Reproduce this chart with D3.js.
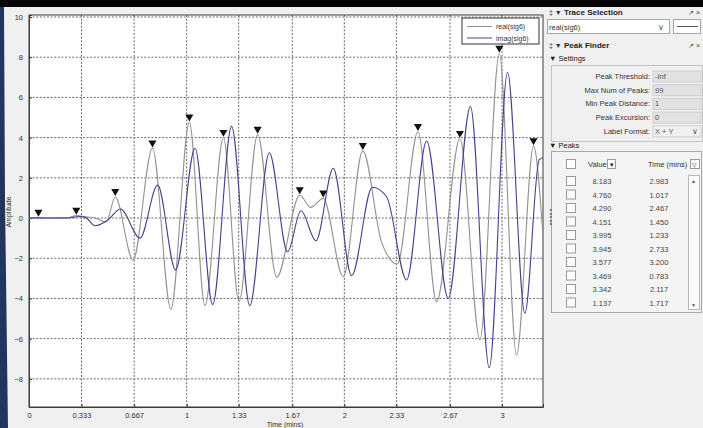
<!DOCTYPE html>
<html>
<head>
<meta charset="utf-8">
<script src="https://cdnjs.cloudflare.com/ajax/libs/d3/7.8.5/d3.min.js"></script>
<style>
body { margin: 0; background: #f0f0f0; overflow: hidden; }
text { font-family: "Liberation Sans", Arial, sans-serif; }
</style>
</head>
<body>
<svg id="chart" width="703" height="428"></svg>
<script>
// real(sig6) - key points (time in mins, amplitude)
var realT = [0, 0.06, 0.12, 0.25, 0.30, 0.37, 0.42, 0.49, 0.547, 0.66, 0.783, 0.90, 1.017, 1.116, 1.233, 1.332, 1.45, 1.571, 1.717, 1.786, 1.866, 1.993, 2.117, 2.236, 2.336, 2.467, 2.585, 2.733, 2.86, 2.983, 3.092, 3.2, 3.26];
var realV = [0, 0.02, 0, 0.02, 0.12, 0.05, 0.0, -0.2, 1.05, -2.09, 3.469, -4.53, 4.76, -4.36, 3.995, -4.16, 4.151, -2.95, 1.137, 0.53, 0.98, -2.92, 3.342, -1.2, -2.29, 4.29, -4.16, 3.945, -6.05, 8.183, -6.82, 3.577, -0.9];

// imag(sig6)
var imagT = [0, 0.25, 0.32, 0.36, 0.42, 0.50, 0.58, 0.704, 0.816, 0.93, 1.053, 1.165, 1.285, 1.40, 1.524, 1.64, 1.725, 1.82, 1.93, 2.046, 2.177, 2.268, 2.395, 2.522, 2.659, 2.80, 2.919, 3.035, 3.145, 3.236, 3.26];
var imagV = [0, 0, 0.08, 0.02, -0.38, -0.1, 0.45, -1.0, 1.64, -2.59, 3.47, -4.3, 4.56, -4.36, 3.25, -1.68, 0.36, -1.13, 2.48, -2.87, 1.53, 1.06, -3.08, 3.83, -4.0, 5.54, -7.45, 7.25, -4.74, 2.9, 3.0];

// peaks found on real(sig6)
var peakT = [0.06, 0.30, 0.547, 0.783, 1.017, 1.233, 1.45, 1.717, 1.866, 2.117, 2.467, 2.733, 2.983, 3.2];
var peakV = [0.02, 0.12, 1.05, 3.469, 4.76, 3.995, 4.151, 1.137, 0.98, 3.342, 4.29, 3.945, 8.183, 3.577];

var xTicks = [0, 0.333, 0.667, 1, 1.33, 1.67, 2, 2.33, 2.67, 3];
var xTickLabels = ["0", "0.333", "0.667", "1", "1.33", "1.67", "2", "2.33", "2.67", "3"];
var yTicks = [-8, -6, -4, -2, 0, 2, 4, 6, 8, 10];

var seriesNames = ["real(sig6)", "imag(sig6)"];
var settingLabels = ["Peak Threshold:", "Max Num of Peaks:", "Min Peak Distance:", "Peak Excursion:", "Label Format:"];
var settingValues = ["-Inf", "99", "1", "0", "X + Y"];

var svg = d3.select("#chart");

// window frame
svg.append("rect").attr("x", 0).attr("y", 0).attr("width", 703).attr("height", 428).attr("fill", "#f0f0f0");
svg.append("rect").attr("x", 0).attr("y", 0).attr("width", 703).attr("height", 7).attr("fill", "#050505");
svg.append("path").attr("d", "M0,7 L4,7 L5,200 L8,428 L0,428 Z").attr("fill", "#22355e");

var x = d3.scaleLinear().domain([0, 3.26]).range([29, 543]);
var y = d3.scaleLinear().domain([-9.4, 10.1]).range([407, 15]);

// plot background
svg.append("rect")
	.attr("x", x(0)).attr("y", y(10.1))
	.attr("width", x(3.26) - x(0)).attr("height", y(-9.4) - y(10.1))
	.attr("fill", "#ffffff");

// grid
var grid = svg.append("g").attr("class", "grid");
grid.selectAll(".vgrid")
	.data(xTicks.slice(1))
.enter().append("line")
	.attr("x1", function(d){ return x(d); })
	.attr("x2", function(d){ return x(d); })
	.attr("y1", y(10.1)).attr("y2", y(-9.4))
	.attr("stroke", "#6a6a6a").attr("stroke-dasharray", "2,1.6");
grid.selectAll(".hgrid")
	.data(yTicks)
.enter().append("line")
	.attr("x1", x(0)).attr("x2", x(3.26))
	.attr("y1", function(d){ return y(d); })
	.attr("y2", function(d){ return y(d); })
	.attr("stroke", "#6a6a6a").attr("stroke-dasharray", "2,1.6");

// axes
var xAxis = d3.axisBottom(x).tickValues(xTicks).tickSize(-3).tickPadding(6)
	.tickFormat(function(d, i){ return xTickLabels[i]; });
var yAxis = d3.axisLeft(y).tickValues(yTicks).tickSize(-3).tickPadding(6);

var gx = svg.append("g").attr("transform", "translate(0," + y(-9.4) + ")").call(xAxis);
var gy = svg.append("g").attr("transform", "translate(" + x(0) + ",0)").call(yAxis);
[gx, gy].forEach(function(g){
	g.select(".domain").attr("stroke", "#3a3a3a");
	g.selectAll(".tick line").attr("stroke", "#3a3a3a");
	g.selectAll(".tick text").attr("fill", "#333").style("font-size", "7.5px")
		.style("font-family", "'Liberation Sans', Arial, sans-serif");
});

// top and right border
svg.append("rect")
	.attr("x", x(0)).attr("y", y(10.1))
	.attr("width", x(3.26) - x(0)).attr("height", y(-9.4) - y(10.1))
	.attr("fill", "none").attr("stroke", "#3a3a3a");

// lines
var line = d3.line()
	.x(function(d){ return x(d[0]); })
	.y(function(d){ return y(d[1]); })
	.curve(d3.curveMonotoneX);

var realData = realT.map(function(t, i){ return [t, realV[i]]; });
var imagData = imagT.map(function(t, i){ return [t, imagV[i]]; });

svg.append("path").datum(realData)
	.attr("d", line).attr("fill", "none")
	.attr("stroke", "#929292").attr("stroke-width", 1.1);
svg.append("path").datum(imagData)
	.attr("d", line).attr("fill", "none")
	.attr("stroke", "#42428e").attr("stroke-width", 1.1);

// peak markers
var tri = d3.symbol().type(d3.symbolTriangle).size(28);
svg.selectAll(".peak")
	.data(peakT)
.enter().append("path")
	.attr("class", "peak")
	.attr("d", tri)
	.attr("transform", function(d, i){ return "translate(" + x(d) + "," + (y(peakV[i]) - 5.5) + ") rotate(180)"; })
	.attr("fill", "#111");

// legend
var lg = svg.append("g");
lg.append("rect").attr("x", 462).attr("y", 18).attr("width", 77).attr("height", 26)
	.attr("fill", "#fff").attr("stroke", "#333");
lg.selectAll(".lgl").data(seriesNames).enter().append("line")
	.attr("x1", 467).attr("x2", 492)
	.attr("y1", function(d, i){ return 26.5 + i * 11.5; })
	.attr("y2", function(d, i){ return 26.5 + i * 11.5; })
	.attr("stroke", function(d, i){ return i ? "#42428e" : "#929292"; });
lg.selectAll(".lgt").data(seriesNames).enter().append("text")
	.attr("x", 496).attr("y", function(d, i){ return 29 + i * 11.5; })
	.style("font-size", "7px").attr("fill", "#333")
	.text(function(d){ return d; });

// axis titles
svg.append("text").attr("x", 285).attr("y", 427).attr("text-anchor", "middle")
	.style("font-size", "7px").attr("fill", "#333").text("Time (mins)");
svg.append("text").attr("transform", "translate(11,212) rotate(-90)").attr("text-anchor", "middle")
	.style("font-size", "7px").attr("fill", "#333").text("Amplitude");

// ---- side panel ----
var p = svg.append("g");
p.append("rect").attr("x", 546).attr("y", 7).attr("width", 157).attr("height", 421).attr("fill", "#f0f0f0");

function header(yy, label) {
	p.append("text").attr("x", 549).attr("y", yy).style("font-size", "7px").attr("fill", "#333").text("\u2021 \u25BC");
	p.append("text").attr("x", 564).attr("y", yy).style("font-size", "8px").style("font-weight", "bold")
		.attr("fill", "#222").text(label);
	p.append("text").attr("x", 688).attr("y", yy).style("font-size", "7px").attr("fill", "#444").text("\u2197 \u00D7");
}
header(15, "Trace Selection");
header(48, "Peak Finder");

// trace dropdown
p.append("rect").attr("x", 547.5).attr("y", 19.5).attr("width", 122).attr("height", 14)
	.attr("fill", "#fff").attr("stroke", "#a8a8a8");
p.append("text").attr("x", 549).attr("y", 29.5).style("font-size", "7.5px").attr("fill", "#333").text(seriesNames[0]);
p.append("text").attr("x", 658).attr("y", 29.5).style("font-size", "7.5px").attr("fill", "#555").text("\u2228");
p.append("rect").attr("x", 673.5).attr("y", 19.5).attr("width", 27).attr("height", 14)
	.attr("fill", "#fff").attr("stroke", "#a8a8a8");
p.append("line").attr("x1", 677).attr("x2", 698).attr("y1", 26.5).attr("y2", 26.5).attr("stroke", "#555");

// settings
p.append("text").attr("x", 549).attr("y", 61).style("font-size", "7.5px").attr("fill", "#222").text("\u25BC Settings");
p.append("rect").attr("x", 551.5).attr("y", 65.5).attr("width", 151).attr("height", 76)
	.attr("fill", "#f0f0f0").attr("stroke", "#c4c4c4");
settingLabels.forEach(function(s, i){
	var yy = 76.5 + i * 13.7;
	p.append("text").attr("x", 650).attr("y", yy + 2.5).attr("text-anchor", "end")
		.style("font-size", "7.5px").attr("fill", "#333").text(s);
	p.append("rect").attr("x", 653).attr("y", yy - 5.5).attr("width", 48).attr("height", 11)
		.attr("fill", i == 4 ? "#f0f0f0" : "#e2e2e2").attr("stroke", "#cfcfcf");
	p.append("text").attr("x", 655).attr("y", yy + 2.5)
		.style("font-size", "7.5px").attr("fill", "#555").text(settingValues[i]);
});
p.append("text").attr("x", 692).attr("y", 134).style("font-size", "7.5px").attr("fill", "#555").text("\u2228");

// peaks table
var top10 = d3.range(peakT.length)
	.sort(function(a, b){ return peakV[b] - peakV[a]; })
	.slice(0, 10);

p.append("text").attr("x", 549).attr("y", 148).style("font-size", "7.5px").attr("fill", "#222").text("\u25BC Peaks");
p.append("rect").attr("x", 551.5).attr("y", 151.5).attr("width", 150).attr("height", 161)
	.attr("fill", "#f4f4f4").attr("stroke", "#a6a6a6");
p.append("rect").attr("x", 566.5).attr("y", 159.5).attr("width", 9).attr("height", 9)
	.attr("fill", "#fff").attr("stroke", "#999");
p.append("text").attr("x", 588).attr("y", 166.5).style("font-size", "7.5px").attr("fill", "#333").text("Value");
p.append("rect").attr("x", 607.5).attr("y", 159.5).attr("width", 8).attr("height", 9)
	.attr("fill", "#fff").attr("stroke", "#999");
p.append("text").attr("x", 608.7).attr("y", 166.5).style("font-size", "6px").attr("fill", "#222").text("\u25BC");
p.append("text").attr("x", 648).attr("y", 166.5).style("font-size", "7.5px").attr("fill", "#333").text("Time (mins)");
p.append("rect").attr("x", 690.5).attr("y", 159.5).attr("width", 9).attr("height", 9)
	.attr("fill", "#fff").attr("stroke", "#999");
p.append("text").attr("x", 691.5).attr("y", 166.5).style("font-size", "6px").attr("fill", "#222").text("\u25BD");

var rows = p.selectAll(".row").data(top10).enter().append("g")
	.attr("transform", function(d, i){ return "translate(0," + (181 + i * 13.5) + ")"; });
rows.append("rect").attr("x", 566.5).attr("y", -4.5).attr("width", 9).attr("height", 9)
	.attr("fill", "#fff").attr("stroke", "#999");
rows.append("text").attr("x", 602).attr("y", 3).attr("text-anchor", "middle")
	.style("font-size", "7.5px").attr("fill", "#444")
	.text(function(d){ return peakV[d].toFixed(3); });
rows.append("text").attr("x", 659).attr("y", 3).attr("text-anchor", "middle")
	.style("font-size", "7.5px").attr("fill", "#444")
	.text(function(d){ return peakT[d].toFixed(3); });

// scrollbar
p.append("rect").attr("x", 688.5).attr("y", 175.5).attr("width", 11).attr("height", 134)
	.attr("fill", "#fbfbfb").attr("stroke", "#b8b8b8");
p.append("text").attr("x", 691).attr("y", 183).style("font-size", "5px").attr("fill", "#555").text("\u25B2");
p.append("text").attr("x", 691).attr("y", 307).style("font-size", "5px").attr("fill", "#555").text("\u25BC");

// splitter grip
p.selectAll(".grip").data(d3.range(5)).enter().append("text")
	.attr("x", 550).attr("y", function(d){ return 211 + d * 3.5; })
	.style("font-size", "4px").attr("fill", "#333").text("\u25B8");
</script>
</body>
</html>
